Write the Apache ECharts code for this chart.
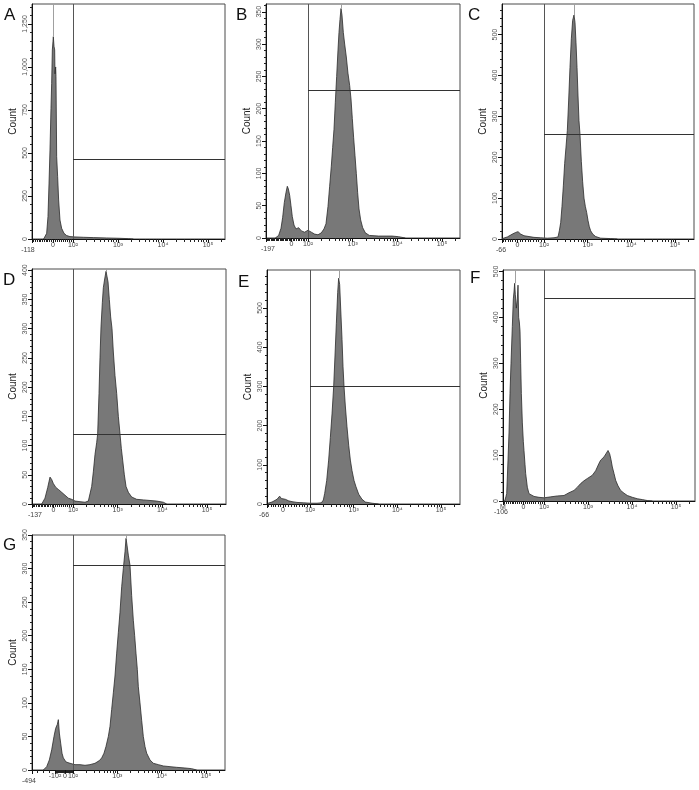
<!DOCTYPE html>
<html>
<head>
<meta charset="utf-8">
<title>Flow cytometry histograms A-G</title>
<script src="https://cdn.jsdelivr.net/npm/echarts@6/dist/echarts.min.js"></script>
<style>
  html, body { margin: 0; padding: 0; background: #fff; }
  #chart { width: 699px; height: 790px; }
</style>
</head>
<body>
<div id="chart"></div>
<script>
// x values are display positions in decades (10^2 = 2, 10^3 = 3 ...), y values are counts
const posA = [1.348, 1.385, 1.415, 1.444, 1.467, 1.489, 1.511, 1.526, 1.541, 1.556, 1.563, 1.578, 1.593, 1.600, 1.615, 1.622, 1.637, 1.659, 1.681, 1.711, 1.748, 1.800, 1.859, 1.933, 2.044, 2.230, 2.452, 2.748, 3.044, 3.230, 3.341];
const countA = [0, 5, 33, 130, 320, 517, 760, 905, 1099, 1150, 1176, 1120, 1099, 960, 1000, 944, 479, 362, 227, 110, 62, 33, 20, 14, 12, 10, 8, 6, 4, 2, 0];

const posB = [1.269, 1.343, 1.396, 1.433, 1.470, 1.507, 1.537, 1.560, 1.590, 1.619, 1.649, 1.687, 1.731, 1.791, 1.851, 1.925, 2.000, 2.075, 2.149, 2.224, 2.298, 2.358, 2.403, 2.448, 2.485, 2.522, 2.552, 2.582, 2.612, 2.642, 2.672, 2.694, 2.716, 2.739, 2.761, 2.791, 2.821, 2.858, 2.895, 2.933, 2.963, 2.992, 3.022, 3.052, 3.082, 3.112, 3.142, 3.179, 3.224, 3.284, 3.373, 3.582, 3.880, 4.030, 4.179];
const countB = [0, 4, 15, 32, 55, 70, 80, 76, 66, 50, 33, 20, 14, 16, 11, 9, 12, 9, 6, 5, 8, 14, 22, 49, 80, 111, 140, 168, 210, 250, 291, 318, 338, 355, 345, 318, 300, 280, 255, 236, 215, 185, 155, 128, 100, 70, 45, 28, 16, 8, 4, 3, 3, 2, 0];

const posC = [1.046, 1.160, 1.275, 1.351, 1.405, 1.466, 1.542, 1.657, 1.771, 1.924, 2.076, 2.229, 2.321, 2.351, 2.382, 2.412, 2.443, 2.473, 2.504, 2.534, 2.565, 2.595, 2.626, 2.656, 2.687, 2.710, 2.733, 2.756, 2.779, 2.801, 2.824, 2.855, 2.885, 2.916, 2.946, 2.977, 3.008, 3.038, 3.069, 3.115, 3.183, 3.298, 3.527, 3.679];
const countC = [1, 5, 12, 16, 18, 12, 8, 6, 4, 3, 2, 3, 5, 20, 40, 80, 130, 185, 225, 265, 340, 420, 490, 535, 548, 530, 480, 420, 350, 290, 256, 190, 140, 100, 80, 65, 45, 30, 20, 12, 6, 2, 1, 0];

const posD = [1.299, 1.373, 1.433, 1.485, 1.522, 1.560, 1.619, 1.672, 1.746, 1.821, 1.895, 1.970, 2.045, 2.157, 2.269, 2.343, 2.381, 2.418, 2.455, 2.493, 2.530, 2.552, 2.582, 2.604, 2.627, 2.657, 2.679, 2.709, 2.739, 2.761, 2.784, 2.813, 2.843, 2.873, 2.903, 2.940, 2.978, 3.015, 3.052, 3.082, 3.112, 3.149, 3.187, 3.239, 3.313, 3.425, 3.575, 3.724, 3.873, 4.022, 4.097];
const countD = [0, 10, 28, 46, 42, 35, 28, 25, 20, 15, 10, 8, 5, 4, 3, 5, 8, 30, 55, 85, 105, 120, 189, 250, 303, 345, 370, 385, 398, 395, 380, 350, 320, 300, 260, 220, 189, 150, 120, 95, 75, 50, 30, 20, 12, 8, 7, 6, 5, 3, 0];

const posE = [1.038, 1.130, 1.244, 1.305, 1.344, 1.382, 1.435, 1.511, 1.588, 1.702, 1.855, 2.008, 2.160, 2.260, 2.305, 2.336, 2.382, 2.427, 2.466, 2.504, 2.542, 2.573, 2.603, 2.634, 2.656, 2.679, 2.702, 2.733, 2.756, 2.779, 2.809, 2.847, 2.886, 2.924, 2.962, 3.008, 3.053, 3.115, 3.191, 3.267, 3.420, 3.573];
const countE = [2, 5, 12, 20, 14, 18, 12, 8, 6, 4, 3, 2, 2, 3, 10, 27, 60, 112, 170, 230, 300, 380, 460, 540, 576, 560, 500, 420, 350, 300, 250, 197, 150, 112, 85, 60, 44, 25, 12, 5, 2, 0];

const posF = [1.106, 1.136, 1.152, 1.182, 1.205, 1.227, 1.250, 1.280, 1.303, 1.318, 1.333, 1.348, 1.371, 1.394, 1.409, 1.424, 1.439, 1.455, 1.470, 1.485, 1.508, 1.530, 1.545, 1.568, 1.583, 1.621, 1.659, 1.697, 1.773, 1.886, 2.000, 2.152, 2.303, 2.455, 2.568, 2.682, 2.758, 2.833, 2.909, 2.985, 3.098, 3.174, 3.212, 3.250, 3.288, 3.364, 3.409, 3.455, 3.492, 3.523, 3.553, 3.591, 3.629, 3.682, 3.742, 3.818, 3.894, 4.008, 4.121, 4.235, 4.348, 4.462];
const countF = [0, 10, 16, 89, 150, 234, 300, 380, 440, 455, 474, 450, 420, 440, 470, 400, 390, 370, 300, 234, 170, 130, 110, 80, 60, 30, 16, 12, 10, 8, 7, 9, 11, 12, 18, 23, 30, 38, 44, 49, 56, 66, 74, 82, 89, 96, 100, 110, 103, 90, 74, 60, 45, 33, 23, 17, 12, 8, 5, 3, 1, 0];

const posG = [1.331, 1.406, 1.466, 1.519, 1.571, 1.609, 1.647, 1.669, 1.692, 1.722, 1.752, 1.782, 1.842, 1.932, 2.045, 2.158, 2.271, 2.383, 2.496, 2.594, 2.647, 2.699, 2.744, 2.797, 2.835, 2.872, 2.910, 2.947, 2.985, 3.023, 3.060, 3.098, 3.135, 3.173, 3.196, 3.218, 3.248, 3.286, 3.323, 3.361, 3.391, 3.421, 3.451, 3.474, 3.511, 3.549, 3.586, 3.624, 3.662, 3.737, 3.812, 3.925, 4.038, 4.188, 4.338, 4.526, 4.677, 4.789];
const countG = [0, 5, 15, 30, 50, 62, 68, 75, 55, 40, 25, 18, 12, 10, 8, 8, 7, 8, 10, 14, 18, 25, 35, 50, 65, 90, 115, 140, 174, 205, 235, 273, 300, 325, 345, 335, 320, 305, 260, 223, 200, 174, 150, 124, 100, 74, 50, 35, 25, 15, 10, 8, 6, 5, 4, 3, 2, 0];

const panelLetters = ['A', 'B', 'C', 'D', 'E', 'F', 'G'];
const panelPos = [posA, posB, posC, posD, posE, posF, posG];
const panelCount = [countA, countB, countC, countD, countE, countF, countG];

// axes
const yMax = [1366, 362, 575, 402, 597, 503, 350];
const yStep = [250, 50, 100, 50, 100, 100, 50];
const xMinValue = [-118, -197, -66, -137, -66, -106, -494];
const xMinLabel = ['-118', '-197', '-66', '-137', '-66', '-106', '-494'];
const xMinPos = [1.089, 1.060, 1.038, 1.082, 1.015, 1.068, 1.075];
const xZeroPos = [1.556, 1.627, 1.389, 1.560, 1.382, 1.530, 1.820];
const xNegHundredPos = [null, null, null, null, null, null, 1.594]; // only G labels -10^2
const xMaxPos = [5.378, 5.403, 5.435, 5.425, 5.435, 5.432, 5.429];
const decadeLabels = ['10²', '10³', '10⁴', '10⁵'];

// gates and peak markers
const gateLevel = [463, 229, 256, 120, 300, 441, 305];
const peakPos = [1.563, 2.739, 2.687, 2.75, 2.66, 1.348, 3.20];
const peakCount = [1176, 355, 548, 398, 576, 474, 345];

// layout
const boxes = [
  { left: 32, top: 4, width: 193, height: 235 },
  { left: 266, top: 4, width: 194, height: 234 },
  { left: 502, top: 4, width: 192, height: 235 },
  { left: 32, top: 269, width: 194, height: 235 },
  { left: 267, top: 270, width: 193, height: 234 },
  { left: 503, top: 270, width: 192, height: 231 },
  { left: 32, top: 535, width: 193, height: 235 }
];
const letterXY = [[4, 7], [236, 7], [468, 7], [3, 272], [238, 274], [470, 270], [3, 537]];
const minLabelShift = [-4, 2, -1, 3, -3, -2, -3];

function linearToDisplay(i, v) {
  const knots = [[xMinValue[i], xMinPos[i]]];
  if (xNegHundredPos[i] !== null) knots.push([-100, xNegHundredPos[i]]);
  knots.push([0, xZeroPos[i]], [100, 2]);
  for (let k = 0; k < knots.length - 1; k++) {
    const a = knots[k], b = knots[k + 1];
    if (v >= a[0] && v <= b[0]) return a[1] + (v - a[0]) / (b[0] - a[0]) * (b[1] - a[1]);
  }
  return null;
}

const grids = [], xAxes = [], yAxes = [], series = [];

for (let i = 0; i < 7; i++) {
  grids.push(Object.assign({ show: true, borderColor: '#4a4a4a', borderWidth: 1, containLabel: false }, boxes[i]));

  // major x ticks and labels
  const majorPos = [xMinPos[i]];
  const majorText = ['{lo|' + xMinLabel[i] + '}'];
  if (xNegHundredPos[i] !== null) { majorPos.push(xNegHundredPos[i]); majorText.push('-10²'); }
  majorPos.push(xZeroPos[i]); majorText.push('0');
  decadeLabels.forEach((t, k) => { majorPos.push(2 + k); majorText.push(t); });

  // minor x ticks: linear region + log decades
  const minorPos = [];
  const bigNeg = xMinValue[i] < -300;
  for (let v = -10; v > xMinValue[i]; v -= (bigNeg && v <= -100 ? 100 : 10)) {
    if (v === -100 && bigNeg) continue;
    minorPos.push(linearToDisplay(i, v));
  }
  for (let v = 10; v < 100; v += 10) minorPos.push(linearToDisplay(i, v));
  for (let n = 2; n <= 5; n++) {
    for (let k = 2; k <= 9; k++) {
      const p = n + Math.log10(k);
      if (p < xMaxPos[i]) minorPos.push(p);
    }
  }

  const sh = minLabelShift[i];
  xAxes.push({
    gridIndex: i, type: 'value', min: xMinPos[i], max: xMaxPos[i], position: 'bottom',
    axisLine: { show: true, onZero: false, lineStyle: { color: '#111', width: 1 } },
    axisTick: { show: true, length: 4, customValues: majorPos, lineStyle: { color: '#111' } },
    axisLabel: {
      show: true, customValues: majorPos, fontSize: 7, color: '#444', margin: 3,
      fontFamily: 'Liberation Sans, Arial, sans-serif',
      formatter: function (val) {
        const idx = majorPos.findIndex(p => Math.abs(p - val) < 1e-6);
        return idx >= 0 ? majorText[idx] : '';
      },
      rich: { lo: { fontSize: 7, color: '#444', padding: [5, sh < 0 ? -2 * sh : 0, 0, sh > 0 ? 2 * sh : 0] } }
    },
    splitLine: { show: false }
  });
  xAxes.push({
    gridIndex: i, type: 'value', min: xMinPos[i], max: xMaxPos[i], position: 'bottom',
    axisLine: { show: false, onZero: false },
    axisTick: { show: true, length: 3, customValues: minorPos, lineStyle: { color: '#222' } },
    axisLabel: { show: false },
    splitLine: { show: false }
  });

  // y axes: major with labels, minor ticks only
  const yMajor = [], yMinor = [];
  for (let v = 0; v <= yMax[i]; v += yStep[i]) yMajor.push(v);
  for (let v = yStep[i] / 5; v < yMax[i]; v += yStep[i] / 5) {
    if (Math.abs(v / yStep[i] - Math.round(v / yStep[i])) > 1e-6) yMinor.push(v);
  }
  yAxes.push({
    gridIndex: i, type: 'value', min: 0, max: yMax[i], position: 'left',
    axisLine: { show: true, onZero: false, lineStyle: { color: '#111', width: 1 } },
    axisTick: { show: true, length: 4, customValues: yMajor, lineStyle: { color: '#111' } },
    axisLabel: {
      show: true, customValues: yMajor, rotate: 90, fontSize: 7, color: '#555', margin: 3,
      fontFamily: 'Liberation Sans, Arial, sans-serif',
      formatter: v => v.toLocaleString('en-US')
    },
    splitLine: { show: false },
    name: 'Count', nameLocation: 'middle', nameGap: 14, nameRotate: 90,
    nameTextStyle: { fontSize: 10, color: '#222', fontFamily: 'Liberation Sans, Arial, sans-serif' }
  });
  yAxes.push({
    gridIndex: i, type: 'value', min: 0, max: yMax[i], position: 'left',
    axisLine: { show: false, onZero: false },
    axisTick: { show: true, length: 2, customValues: yMinor, lineStyle: { color: '#222' } },
    axisLabel: { show: false },
    splitLine: { show: false }
  });

  const data = panelPos[i].map((p, k) => [p, panelCount[i][k]]);
  series.push({
    type: 'line', xAxisIndex: 2 * i, yAxisIndex: 2 * i, data: data,
    symbol: 'none', smooth: false,
    lineStyle: { color: '#2b2b2b', width: 0.8 },
    areaStyle: { color: '#787878', opacity: 1 },
    markLine: {
      silent: true, symbol: ['none', 'none'], animation: false,
      label: { show: false },
      data: [
        { xAxis: 2, lineStyle: { color: '#555', width: 1, type: 'solid' } },
        [
          { coord: [2, gateLevel[i]], lineStyle: { color: '#333', width: 1, type: 'solid' } },
          { coord: [xMaxPos[i], gateLevel[i]] }
        ],
        [
          { coord: [peakPos[i], peakCount[i]], lineStyle: { color: '#a0a0a0', width: 1, type: 'solid' } },
          { coord: [peakPos[i], yMax[i]] }
        ]
      ]
    },
    animation: false
  });
}

const graphics = panelLetters.map((t, i) => ({
  type: 'text', left: letterXY[i][0], top: letterXY[i][1],
  style: { text: t, fontSize: 17, fontFamily: 'Liberation Sans, Arial, sans-serif', fill: '#111' }
}));
graphics.push({
  type: 'text', left: 500, top: 504,
  style: { text: 'M', fontSize: 7, fontFamily: 'Liberation Sans, Arial, sans-serif', fill: '#444' }
});

const chart = echarts.init(document.getElementById('chart'));
chart.setOption({
  animation: false,
  backgroundColor: '#fff',
  grid: grids,
  xAxis: xAxes,
  yAxis: yAxes,
  series: series,
  graphic: graphics
});
</script>
</body>
</html>
